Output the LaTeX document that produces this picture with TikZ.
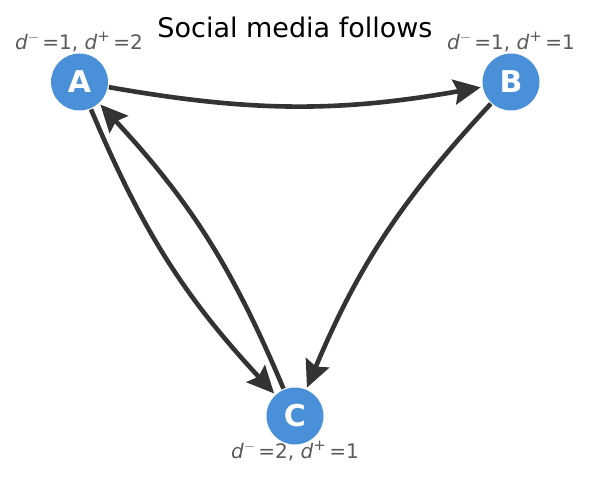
\documentclass[tikz,border=0pt]{standalone}
\usepackage{fontspec}
\setmainfont{DejaVu Sans}
\usepackage{xcolor}
\definecolor{nodeblue}{HTML}{4A90D9}
\definecolor{edgegray}{HTML}{333333}
\definecolor{labgray}{HTML}{5A5A5A}
\usepackage{tikz}
\usetikzlibrary{arrows.meta,positioning}
\tikzset{
  >={Stealth[length=27pt,width=25pt,inset=4pt]},
  user/.style={circle,fill=nodeblue,minimum size=57pt,inner sep=0pt,text=white,font=\fontsize{30}{36}\selectfont\bfseries},
  lab/.style={text=labgray,font=\fontsize{20}{24}\selectfont,inner sep=0pt},
  edge/.style={->,draw=edgegray,line width=4.6pt,shorten >=2pt,shorten <=1pt},
}
% in/out degree label: d^- and d^+
\newcommand{\dsup}[1]{\raisebox{0.42em}{\fontsize{15}{18}\selectfont#1}}
\newcommand{\dlab}[2]{\textit{d}\dsup{$-$}\,=#1, \textit{d}\dsup{+}\,=#2}

\begin{document}
\begin{tikzpicture}[x=1pt,y=1pt]
\useasboundingbox (0,0) rectangle (589,477);
\node[font=\fontsize{27}{32}\selectfont,inner sep=0pt] (title) at (295,450) {Social media follows};
\node[user] (A) at (79.5,395) {A};
\node[user] (B) at (511,395) {B};
\node[user] (C) at (295,61) {C};
\node[lab] (lA) at (79,435) {\dlab{1}{2}};
\node[lab] (lB) at (511,435) {\dlab{1}{1}};
\node[lab] (lC) at (295,26) {\dlab{2}{1}};
\draw[edge] (A) to[bend right=10] (B);
\draw[edge] (B) to[bend right=10] (C);
\draw[edge] (A) to[bend right=10] (C);
\draw[edge] (C) to[bend right=10] (A);
\end{tikzpicture}
\end{document}
